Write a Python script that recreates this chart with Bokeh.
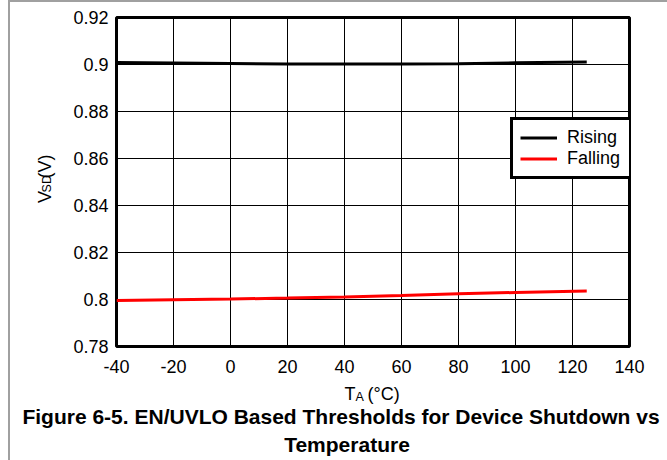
import numpy as np
from bokeh.plotting import figure
from bokeh.layouts import column, row
from bokeh.models import FixedTicker, Legend, LegendItem
from bokeh.core.properties import value
from bokeh.embed import file_html
from bokeh.resources import INLINE

# ---- data ----
temps = [-40, -20, 0, 20, 40, 60, 80, 100, 125]
rising = [0.9008, 0.9006, 0.9004, 0.9002, 0.9002, 0.9002, 0.9003, 0.9007, 0.9011]
falling = [0.7996, 0.7999, 0.8002, 0.8006, 0.8011, 0.8017, 0.8024, 0.8030, 0.8036]
x_ticks = [-40, -20, 0, 20, 40, 60, 80, 100, 120, 140]
x_tick_labels = ["-40", "-20", "0", "20", "40", "60", "80", "100", "120", "140"]
y_ticks = [0.78, 0.8, 0.82, 0.84, 0.86, 0.88, 0.9, 0.92]
y_tick_labels = ["0.78", "0.8", "0.82", "0.84", "0.86", "0.88", "0.9", "0.92"]
series_names = ["Rising", "Falling"]
title_lines = ["Figure 6-5. EN/UVLO Based Thresholds for Device Shutdown vs", "Temperature"]

FONT = "Liberation Sans"
OX, OY = 10, 2          # content origin on the page (after grey border)

# ---------------- main plot ----------------
MAIN_X0 = 70
MAIN_H = 378
p = figure(width=667 - MAIN_X0, height=MAIN_H, x_range=(-40, 140), y_range=(0.78, 0.92),
           output_backend="svg", toolbar_location=None,
           min_border_left=115 - MAIN_X0, min_border_right=38,
           min_border_top=15, min_border_bottom=34)
p.background_fill_color = "white"
p.border_fill_color = "white"
p.outline_line_color = "black"
p.outline_line_width = 3

p.xaxis.ticker = FixedTicker(ticks=x_ticks)
p.yaxis.ticker = FixedTicker(ticks=y_ticks)
p.xgrid.ticker = FixedTicker(ticks=x_ticks)
p.ygrid.ticker = FixedTicker(ticks=y_ticks)
p.xaxis.major_label_overrides = {v: s for v, s in zip(x_ticks, x_tick_labels)}
p.yaxis.major_label_overrides = {v: s for v, s in zip(y_ticks, y_tick_labels)}

for ax in (p.xaxis, p.yaxis):
    ax.axis_line_color = None
    ax.major_tick_line_color = None
    ax.minor_tick_line_color = None
    ax.major_tick_out = 0
    ax.major_tick_in = 0
    ax.minor_tick_out = 0
    ax.minor_tick_in = 0
    ax.major_label_text_font = FONT
    ax.major_label_text_font_size = "18px"
    ax.major_label_text_color = "black"
p.xaxis.major_label_standoff = 13
p.yaxis.major_label_standoff = 8

p.grid.grid_line_color = "black"
p.grid.grid_line_width = 1

r1 = p.line(temps, rising, line_color="black", line_width=3)
r2 = p.line(temps, falling, line_color="#ff0000", line_width=3)

legend = Legend(items=[LegendItem(label=series_names[0], renderers=[r1]),
                       LegendItem(label=series_names[1], renderers=[r2])],
                location=(394, 167))
legend.border_line_color = "black"
legend.border_line_alpha = 1
legend.border_line_width = 3
legend.background_fill_color = "white"
legend.background_fill_alpha = 1
legend.label_text_font = FONT
legend.label_text_font_size = "18px"
legend.label_text_color = "black"
legend.padding = 7
legend.spacing = 0
legend.margin = 0
legend.glyph_width = 37
legend.glyph_height = 19
legend.label_height = 19
legend.label_width = 58
legend.label_standoff = 10
p.add_layout(legend, "center")


def text_fig(x0, y0, w, h):
    f = figure(width=w, height=h, x_range=(x0, x0 + w), y_range=(y0 + h, y0),
               x_axis_type=None, y_axis_type=None, toolbar_location=None,
               output_backend="svg", min_border=0)
    f.outline_line_color = None
    f.grid.grid_line_color = None
    f.background_fill_color = "white"
    f.border_fill_color = "white"
    return f


def put(f, s, X, Y, size, bold=False, align="left", angle=0.0):
    f.text(x=[X], y=[Y], text=[s], text_font=value(FONT), text_font_size=size,
           text_color="black", text_font_style="bold" if bold else "normal",
           text_align=align, text_baseline="alphabetic", angle=angle)


# ---------------- y-axis label strip ----------------
p_left = text_fig(OX, OY, MAIN_X0 - OX, MAIN_H)
put(p_left, "V", 44, 215, "18px", angle=np.pi / 2)
put(p_left, "SD", 46, 203, "12.5px", angle=np.pi / 2)
put(p_left, "(V)", 44, 187, "18px", angle=np.pi / 2)

# ---------------- x-axis label + caption strip ----------------
BOT_Y0 = OY + MAIN_H
p_bot = text_fig(OX, BOT_Y0, 667 - OX, 460 - BOT_Y0)
put(p_bot, "T", 344, 393, "18px")
put(p_bot, "A", 355, 396, "12.5px")
put(p_bot, "(°C)", 367, 393, "18px")
put(p_bot, title_lines[0], 340.5, 416, "21px", bold=True, align="center")
put(p_bot, title_lines[1], 346.5, 444, "21px", bold=True, align="center")

layout = column(row(p_left, p), p_bot)
layout.styles = {"margin-left": "8px", "border-left": "2px solid #a0a0a0",
                 "border-top": "2px solid #a0a0a0"}

open("out.html", "w").write(file_html(layout, INLINE))
